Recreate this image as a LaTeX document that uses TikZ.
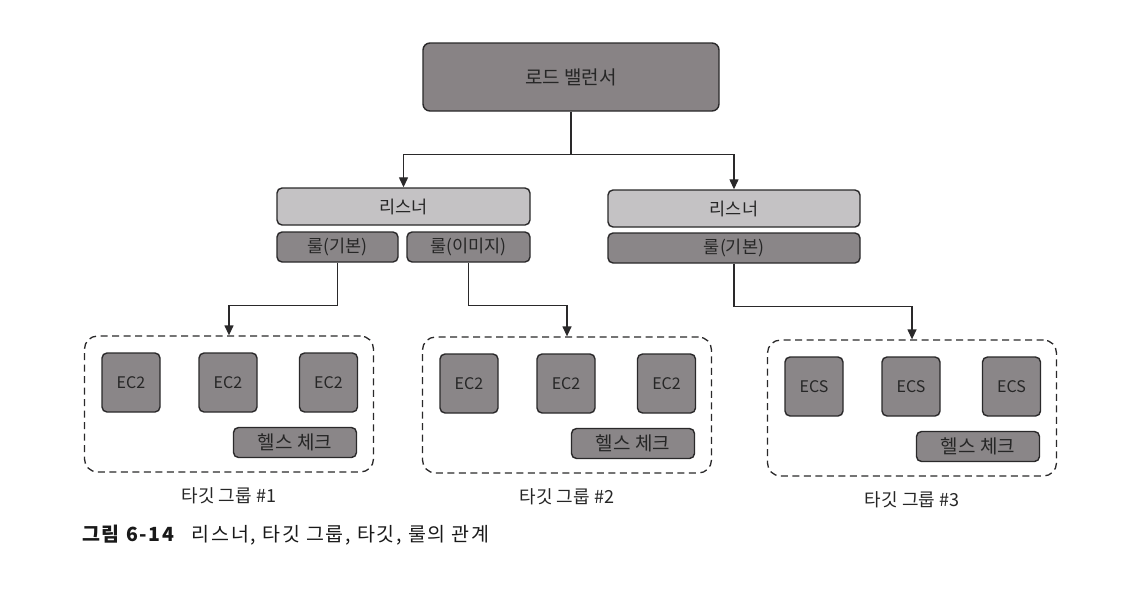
\documentclass[tikz,border=0pt]{standalone}
\usepackage{fontspec}
\setmainfont{Noto Sans CJK KR}
\usetikzlibrary{arrows.meta}

\definecolor{lbgray}{RGB}{136,131,133}
\definecolor{lisgray}{RGB}{196,194,196}
\definecolor{rulegray}{RGB}{138,134,136}
\definecolor{edgegray}{RGB}{42,41,42}

\tikzset{
  basebox/.style={draw=edgegray, line width=1.4pt, text=black!85, inner sep=0pt,
                  font=\fontsize{17.5}{21}\selectfont},
  lbbox/.style={basebox, fill=lbgray, rounded corners=7pt,
                minimum width=296pt, minimum height=68pt,
                font=\fontsize{19}{23}\selectfont},
  lisbox/.style={basebox, fill=lisgray, rounded corners=5pt, minimum height=37pt},
  rulebox/.style={basebox, fill=rulegray, rounded corners=5pt, minimum height=30pt},
  instbox/.style={basebox, fill=rulegray, rounded corners=5pt,
                  minimum width=58pt, minimum height=59pt,
                  font=\fontsize{16}{19}\selectfont},
  hcbox/.style={rulebox, minimum width=123pt, font=\fontsize{19}{23}\selectfont},
  grpbox/.style={draw=edgegray, line width=1.3pt, dash pattern=on 7pt off 4.5pt,
                 rounded corners=13pt, minimum width=289pt, minimum height=136pt},
  grplabel/.style={text=black!85, font=\fontsize{18}{22}\selectfont},
  conn/.style={draw=edgegray, line width=1.3pt,
               -{Triangle[width=9pt,length=10pt]}}
}

\begin{document}
\begin{tikzpicture}[x=1pt, y=-1pt]
\useasboundingbox (0,0) rectangle (1146,598);

% load balancer and listeners
\node[lbbox] (lb) at (571,77) {로드 밸런서};
\node[lisbox, minimum width=253pt] (lis1) at (403.5,206.5) {리스너};
\node[rulebox, minimum width=121pt] (r1) at (337.5,247) {룰(기본)};
\node[rulebox, minimum width=123pt] (r2) at (468.5,247) {룰(이미지)};
\node[lisbox, minimum width=252pt] (lis2) at (734,208.5) {리스너};
\node[rulebox, minimum width=252pt] (r3) at (734,248) {룰(기본)};

% target groups
\foreach \g/\gx/\gy/\inst in {1/229/404/EC2, 2/567/405/EC2, 3/912/408/ECS}{
  \node[grpbox] (g\g) at (\gx,\gy) {};
  \foreach \i/\dx in {1/-98, 2/-1, 3/99.5}
    \node[instbox] (g\g i\i) at ({\gx+\dx},{\gy-21.5}) {\inst};
  \node[hcbox] (g\g hc) at ({\gx+66},{\gy+38.5}) {헬스 체크};
  \node[grplabel] (g\g lab) at (\gx,{\gy+92}) {타깃 그룹 \#\g};
}

% connectors
\draw[conn] (lb.south) -- ++(0,43) -| (lis1.north);
\draw[conn] (lb.south) -- ++(0,43) -| (lis2.north);
\draw[conn] (r1.south) -- ++(0,43) -| (g1.north);
\draw[conn] (r2.south) -- ++(0,43) -| (g2.north);
\draw[conn] (r3.south) -- ++(0,43) -| (g3.north);

% caption
\node[anchor=west, inner sep=0pt, text=black!90,
      font=\fontsize{19.5}{23}\selectfont\addfontfeatures{LetterSpace=9}]
  (cap) at (82,535) {\textbf{그림 6-14}\hspace{0.8em}리스너, 타깃 그룹, 타깃, 룰의 관계};
\end{tikzpicture}
\end{document}
